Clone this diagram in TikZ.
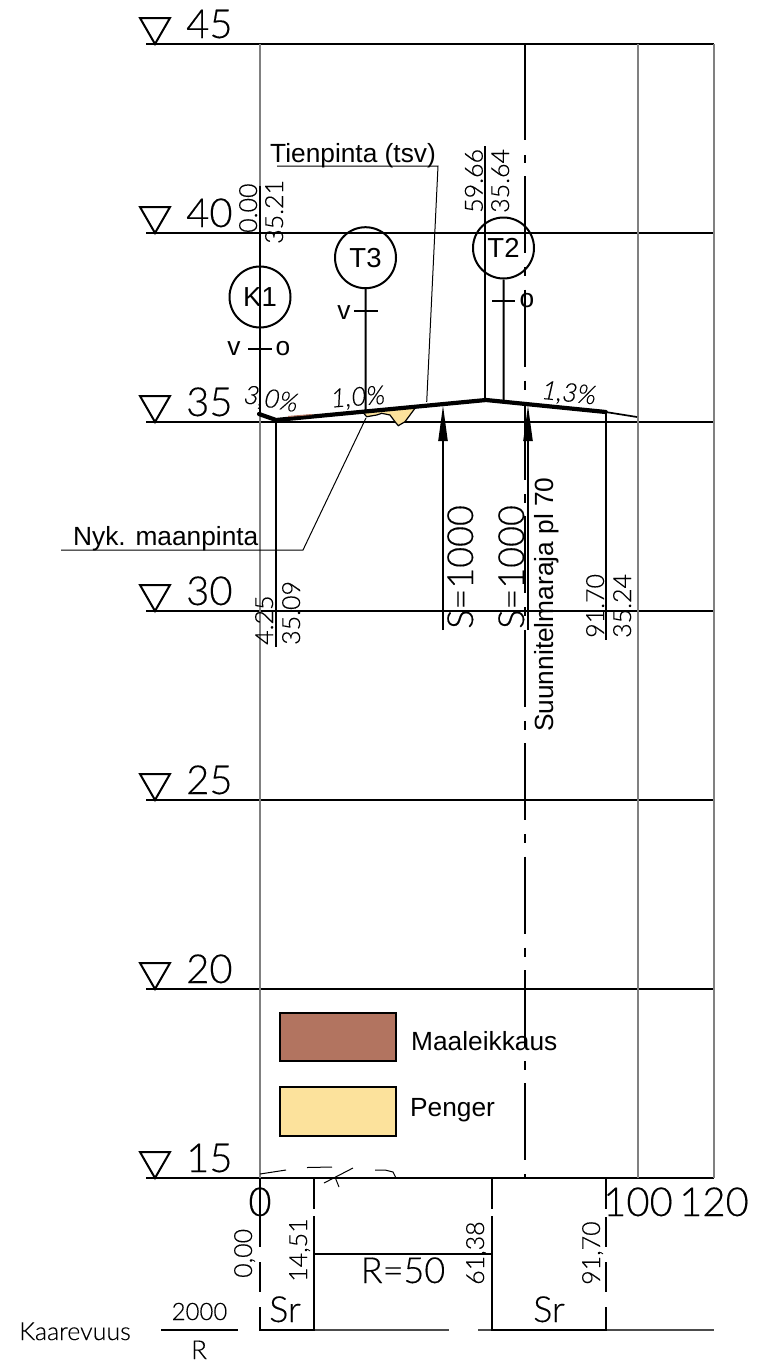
\documentclass[tikz,border=0pt]{standalone}
\usepackage{fontspec}
\usepackage{color}
\usetikzlibrary{arrows.meta}
\setmainfont[FakeBold=0.25]{Lato Light}
\newfontfamily\arialfont{Liberation Sans}
\newcommand{\fsize}[1]{\fontsize{#1}{#1}\selectfont}
\definecolor{gridgray}{HTML}{808080}
\definecolor{cutbrown}{HTML}{B27460}
\definecolor{fillyellow}{HTML}{FCE29C}
\tikzset{
  levelline/.style={line width=1.1pt},
  gridline/.style={line width=1.3pt,gridgray},
  thinline/.style={line width=1pt},
  medline/.style={line width=1.7pt},
  stemline/.style={line width=2pt},
  heavyline/.style={line width=2.6pt},
  roadline/.style={line width=4.2pt,line cap=round,line join=round},
  bigtext/.style={inner sep=0,font=\fsize{40}},
  midtext/.style={inner sep=0,font=\fsize{36}},
  dimtext/.style={inner sep=0,font=\fsize{25},rotate=90,anchor=base west},
  slopetext/.style={inner sep=0,font=\fsize{26}\itshape},
  arialtext/.style={inner sep=0,font=\arialfont\fsize{26.3}},
  markcircle/.style={circle,draw,line width=2pt,minimum size=61pt,inner sep=0,font=\arialfont\fsize{27.5}},
  legendbox/.style={draw,line width=1.2pt},
  arrowline/.style={line width=2.2pt,-{Triangle[length=36pt,width=9pt]}}
}
\begin{document}
\begin{tikzpicture}[x=1pt,y=-1pt]
      \useasboundingbox (0,0) rectangle (756,1363);

      % levels
      \foreach \lev/\ypos in {45/44,40/233,35/422,30/611,25/800,20/989,15/1178} {
        \draw [levelline] (146,\ypos) to (714,\ypos);
        \draw [line width=2pt,line join=miter] (140,\ypos-26) -- (170,\ypos-26) -- (155,\ypos) -- cycle;
        \node (lev\lev) at (186,\ypos-6) [bigtext,anchor=base west] {\lev};
      }

      % grid
      \draw [gridline] (260,44) to (260,1178);
      \draw [gridline] (638,44) to (638,1178);
      \draw [gridline] (714,44) to (714,1178);

      % centre line
      \draw [stemline] (524.5,44) to (524.5,140);
      \draw [stemline] (524.5,155) to (524.5,163);
      \draw [stemline,dash pattern=on 77pt off 14pt on 9pt off 13.4pt] (524.5,176.2) to (524.5,1178);

      % fill
      \fill [fillyellow,draw=black,line width=1.2pt] (361.7,411) -- (366.7,416.7) -- (376.7,415) -- (381.7,413.3) -- (390,415)
        -- (395,421.7) -- (398.3,425.7) -- (405,421.7) -- (416.7,406) -- cycle;

      % stems and marks
      \coordinate (k1top) at (260,186);
      \coordinate (k1foot) at (260,414);
      \coordinate (t3foot) at (365.7,410);
      \coordinate (t2foot) at (503.7,400);
      \draw [stemline] (k1top) to (k1foot);
      \node (K1) at (260,297) [markcircle] {K1};
      \node (T3) at (365.5,257.7) [markcircle] {T3};
      \node (T2) at (503.5,248) [markcircle] {T2};
      \draw [stemline] (T3) to (t3foot);
      \draw [stemline] (T2) to (t2foot);
      \draw [medline] (248,349) to (272,349);
      \draw [medline] (354,311) to (378,311);
      \draw [medline] (492,301) to (515,301);
      \node (k1v) at (234,355) [arialtext,anchor=base] {v};
      \node (k1o) at (283,355) [arialtext,anchor=base] {o};
      \node (t3v) at (344,319) [arialtext,anchor=base] {v};
      \node (t2o) at (527,307) [arialtext,anchor=base] {o};

      % dimension lines
      \draw [medline] (485.3,146) to (485.3,400);
      \draw [medline] (276,421) to (276,647);
      \draw [medline] (605.7,412) to (605.7,640);
      \node (sta0) at (257,233) [dimtext] {0.00};
      \node (ele0) at (283,244) [dimtext] {35.21};
      \node (sta59) at (482.7,213) [dimtext] {59.66};
      \node (ele59) at (509,213) [dimtext] {35.64};
      \node (sta4) at (273,645) [dimtext] {4.25};
      \node (ele4) at (300,645) [dimtext] {35.09};
      \node (sta91) at (604,638) [dimtext] {91.70};
      \node (ele91) at (631,638) [dimtext] {35.24};

      % road
      \draw [roadline] (259,414) -- (276,420) -- (486,400) -- (605.7,412);
      \draw [medline] (605.7,412) to (637,417);
      \draw [cutbrown,line width=1pt] (288,416.5) to (312,414.5);
      \node (slope30) at (271,400) [slopetext,rotate=-10] {3,0\%};
      \node (slope10) at (358,398) [slopetext,rotate=4] {1,0\%};
      \node (slope13) at (569,394) [slopetext,rotate=-6] {1,3\%};

      % leaders
      \node (tien) at (270,162) [arialtext,anchor=base west] {Tienpinta (tsv)};
      \draw [thinline] (277,166) -- (438,166) -- (426.7,402);
      \node (nyk) at (73,545) [arialtext,anchor=base west] {Nyk. maanpinta};
      \draw [thinline] (61,550) -- (303,550) -- (366,418);

      % curves
      \coordinate (s1) at (443,630);
      \coordinate (s1tip) at (443,405);
      \coordinate (s2) at (528,630);
      \coordinate (s2tip) at (528,405);
      \draw [arrowline] (s1) to (s1tip);
      \draw [arrowline] (s2) to (s2tip);
      \node (s1label) at (473,629) [midtext,rotate=90,anchor=base west] {S=1000};
      \node (s2label) at (524,629) [midtext,rotate=90,anchor=base west] {S=1000};
      \node (plan) at (553,732) [arialtext,rotate=90,anchor=base west] {Suunnitelmaraja pl 70};

      % legend
      \node (maabox) at (338,1037) [legendbox,fill=cutbrown,minimum width=116pt,minimum height=48pt,inner sep=0] {};
      \node (penbox) at (338,1111.5) [legendbox,fill=fillyellow,minimum width=116pt,minimum height=49pt,inner sep=0] {};
      \node (maa) at (411,1050) [arialtext,anchor=base west] {Maaleikkaus};
      \node (pen) at (410,1116) [arialtext,anchor=base west] {Penger};

      % terrain marks
      \draw [thinline] (260,1174) to (286,1170);
      \draw [thinline] (307,1167.5) to (332,1167);
      \draw [thinline] (324,1183) to (353,1168);
      \draw [thinline] (335,1177) to (339,1187);
      \draw [thinline] (375,1170) -- (385,1170) -- (393,1172) -- (396,1178);

      % axis
      \node (x0) at (260,1216) [bigtext,anchor=base] {0};
      \node (x100) at (638,1216) [bigtext,anchor=base] {100};
      \node (x120) at (714,1216) [bigtext,anchor=base] {120};

      % curvature
      \draw [stemline,dash pattern=on 69pt off 15pt on 30pt off 15pt on 23pt] (260,1178) to (260,1330);
      \draw [stemline] (314,1178) to (314,1209);
      \draw [stemline] (314,1216) to (314,1330);
      \draw [stemline] (492,1178) to (492,1209);
      \draw [stemline] (492,1216) to (492,1330);
      \draw [stemline] (606,1178) to (606,1209);
      \draw [stemline,dash pattern=on 30pt off 15pt on 30pt off 15pt on 23pt] (606,1217) to (606,1330);
      \draw [stemline] (314,1254) to (492,1254);
      \draw [heavyline] (259,1330) to (315,1330);
      \draw [heavyline] (491,1330) to (607,1330);
      \draw [medline,black!70] (315,1330) to (449,1330);
      \draw [medline,black!70] (478,1330) to (491,1330);
      \draw [medline,black!70] (607,1330) to (714,1330);
      \node (cs0) at (252,1278) [dimtext,font=\fsize{25}] {0,00};
      \node (cs14) at (307,1282) [dimtext,font=\fsize{25}] {14,51};
      \node (cs61) at (484,1285) [dimtext,font=\fsize{25}] {61,38};
      \node (cs91) at (600,1285) [dimtext,font=\fsize{25}] {91,70};
      \node (radius) at (403,1283) [midtext,anchor=base] {R=50};
      \node (sr1) at (269,1322) [midtext,anchor=base west] {Sr};
      \node (sr2) at (533,1322) [midtext,anchor=base west] {Sr};
      \node (kaar) at (19,1340) [inner sep=0,anchor=base west,font=\fsize{25}] {Kaarevuus};
      \node (frnum) at (199.5,1320) [inner sep=0,anchor=base,font=\fsize{24}] {2000};
      \node (frden) at (199,1359) [inner sep=0,anchor=base,text depth=0pt,font=\fsize{26}] {R};
      \draw [medline] (161,1330) to (238,1330);

    \end{tikzpicture}
\end{document}
